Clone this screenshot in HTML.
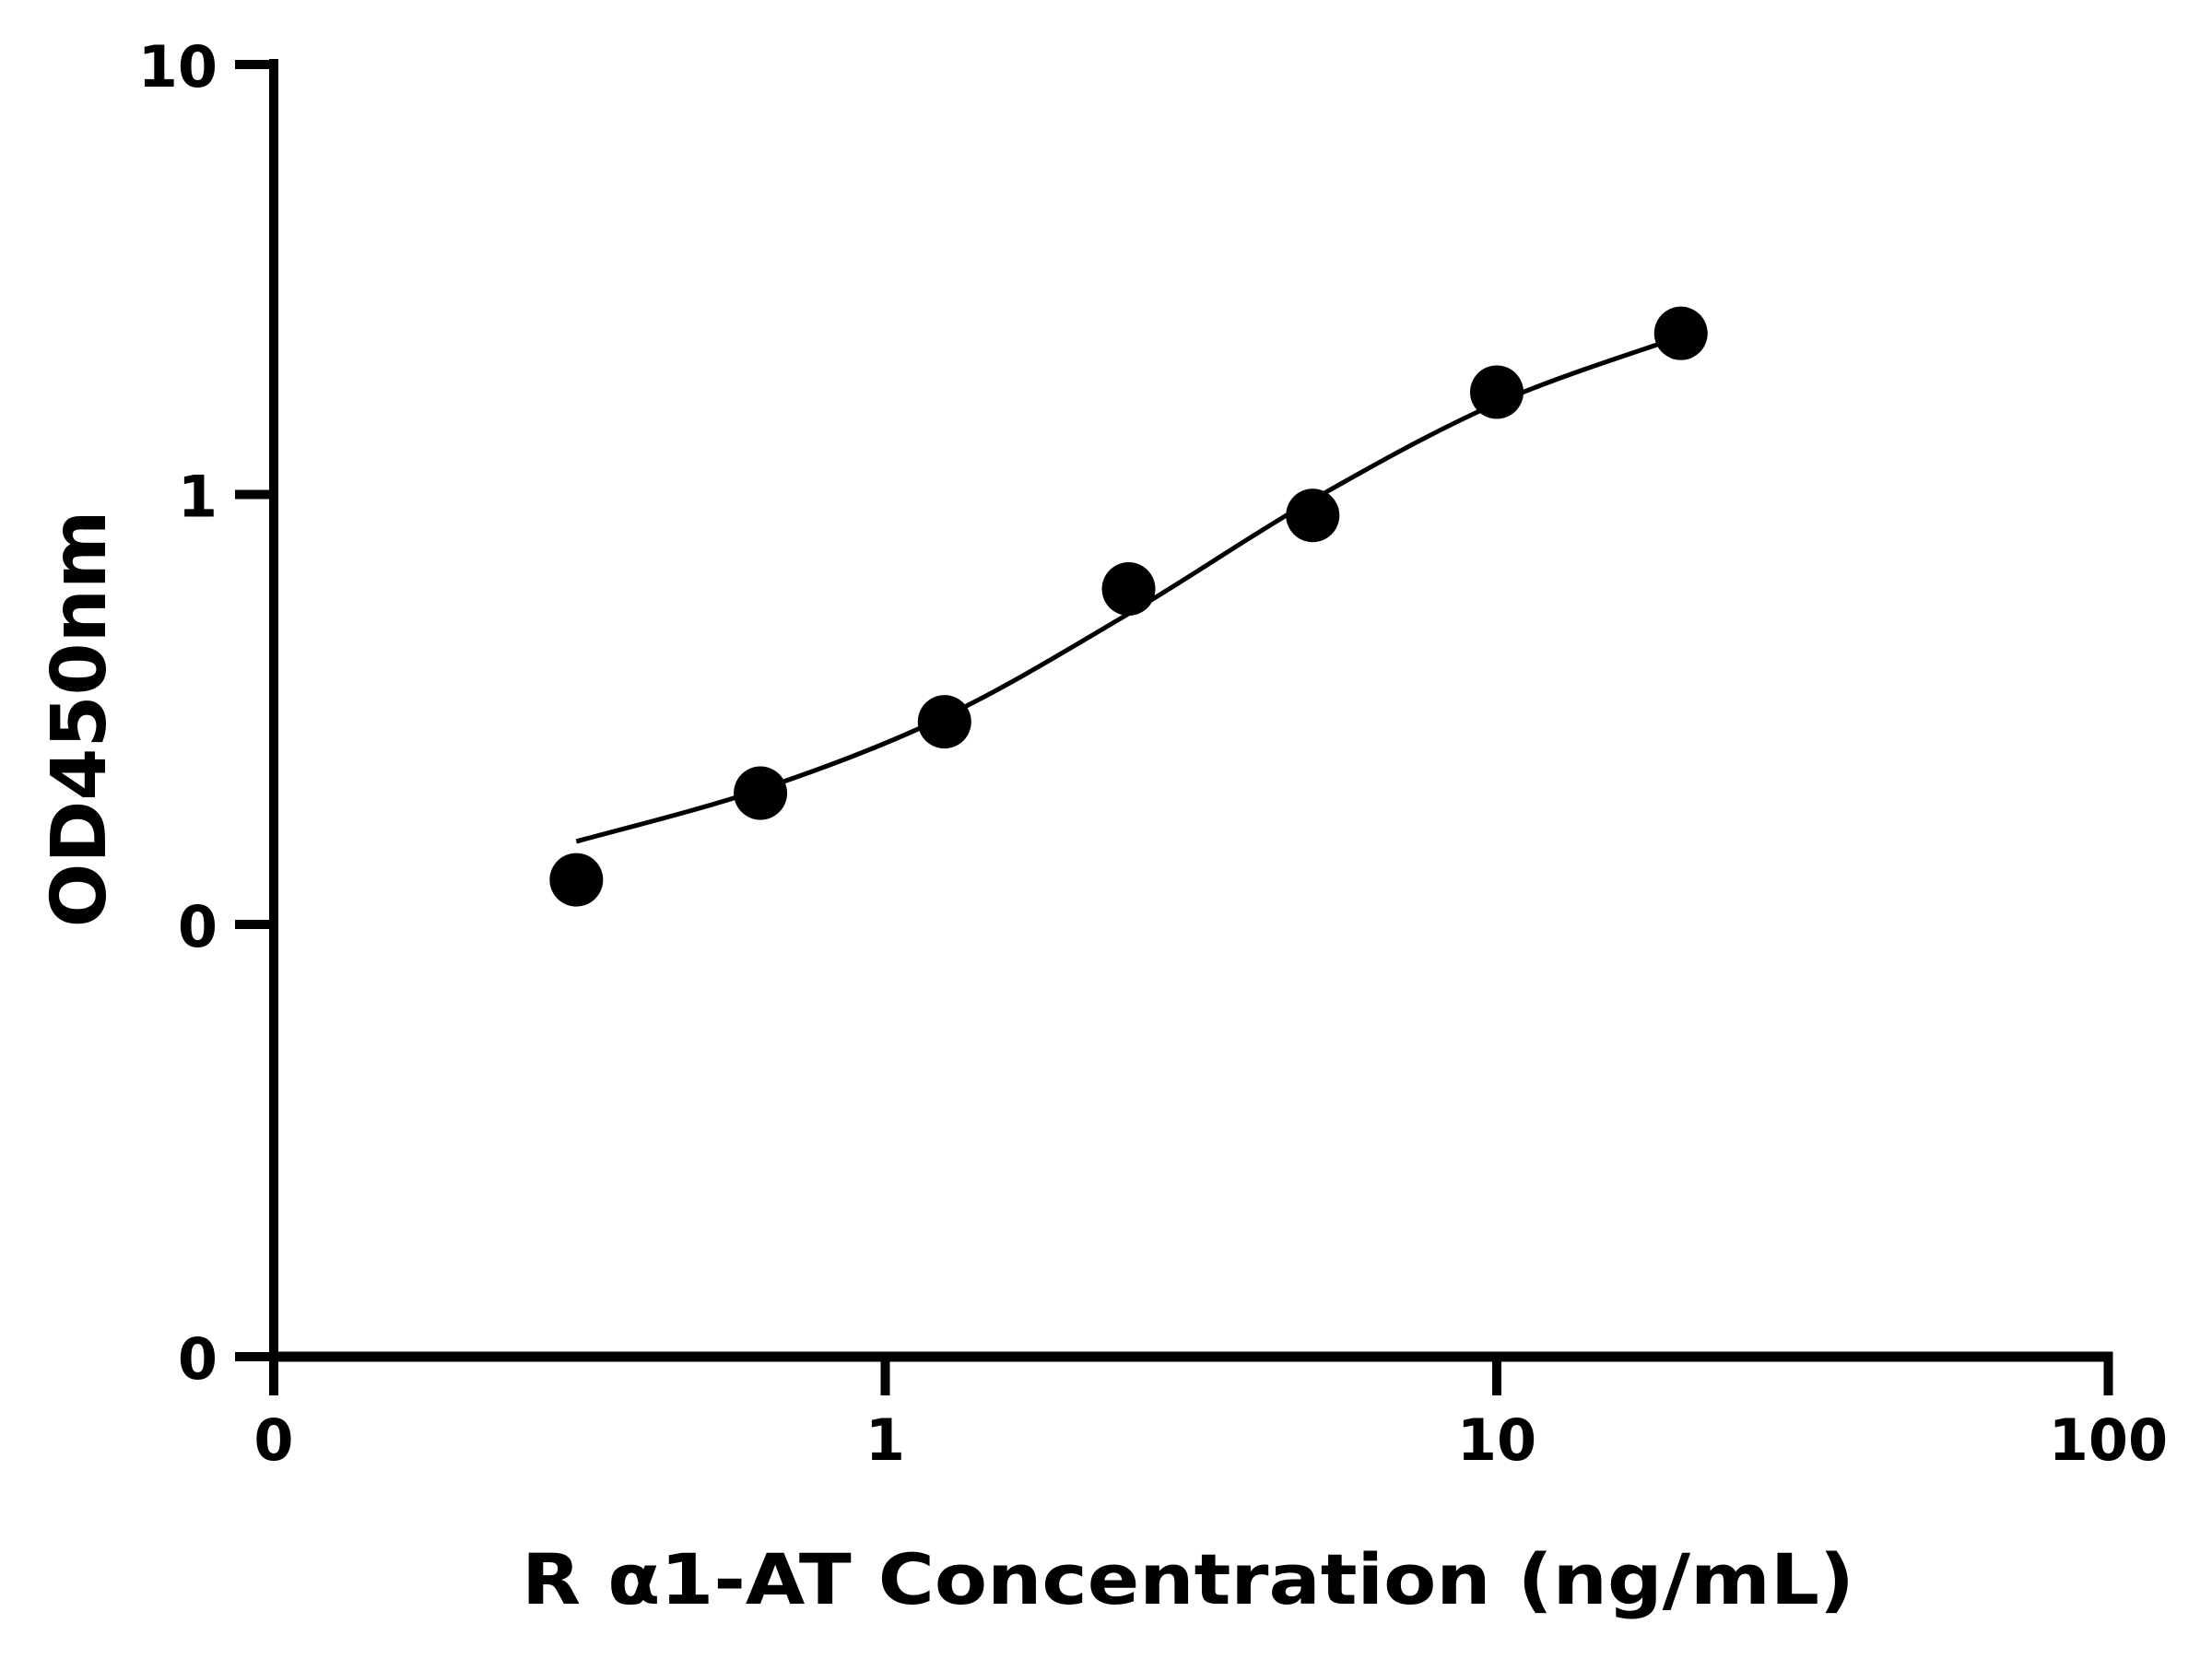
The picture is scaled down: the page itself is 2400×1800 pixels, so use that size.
<!DOCTYPE html>
<html><head><meta charset="utf-8"><style>
html,body{margin:0;padding:0;background:#fff;}
svg{display:block;}
text{font-family:"DejaVu Sans","Liberation Sans",sans-serif;font-weight:bold;fill:#000;}
</style></head><body>
<svg id="chart" width="2400" height="1800" viewBox="0 0 2400 1800" xmlns="http://www.w3.org/2000/svg">
<g id="axes"></g>
<g id="curve"></g>
<g id="points"></g>
<text transform="translate(114,780) rotate(-90)" text-anchor="middle" font-size="82">OD450nm</text>
<text x="1289" y="1740" text-anchor="middle" font-size="76" textLength="1446" lengthAdjust="spacingAndGlyphs">R α1-AT Concentration (ng/mL)</text>
</svg>
<script>
const concentrations = [0.3125, 0.625, 1.25, 2.5, 5, 10, 20];
const odValues = [0.127, 0.202, 0.296, 0.603, 0.894, 1.73, 2.37];
const curveX = [0.3125, 0.625, 1.25, 2.5, 5, 10, 20];
const curveY = [0.156, 0.206, 0.304, 0.528, 0.972, 1.63, 2.33];
const xTickValues = [0.1, 1, 10, 100];
const xTickLabels = ["0", "1", "10", "100"];
const yTickValues = [10, 1, 0.1];
const yTickLabels = ["10", "1", "0"];

const NS = "http://www.w3.org/2000/svg";
const X0 = 297, XDEC = 663.5, YTEN = 70, YDEC = 466.5, YBOT = 1472, YTOP = 64;
function xs(v){ return X0 + (Math.log10(v) + 1) * XDEC; }
function ys(v){ return YTEN + (1 - Math.log10(v)) * YDEC; }
function mk(tag, attrs, parent){ const e = document.createElementNS(NS, tag); for (const k in attrs) e.setAttribute(k, attrs[k]); parent.appendChild(e); return e; }

const axes = document.getElementById('axes');
let e;
e = mk('line', {x1: X0, y1: YTOP, x2: X0, y2: YBOT + 6, stroke: '#000', 'stroke-width': 10}, axes);


e = mk('line', {x1: X0 - 5, y1: YBOT, x2: xs(100) + 5, y2: YBOT, stroke: '#000', 'stroke-width': 11}, axes);



yTickValues.forEach((v, i) => {
  const y = ys(v);
  const t = mk('line', {x1: 255, y1: y, x2: X0, y2: y, stroke: '#000', 'stroke-width': 10}, axes);
  
  
  const l = mk('text', {x: 236, y: y + 24, 'text-anchor': 'end', 'font-size': 62}, axes);
  l.textContent = yTickLabels[i];
  
  
});
e = mk('line', {x1: 255, y1: YBOT, x2: X0, y2: YBOT, stroke: '#000', 'stroke-width': 10}, axes);


e = mk('text', {x: 236, y: YBOT + 24, 'text-anchor': 'end', 'font-size': 62}, axes);
e.textContent = "0";



xTickValues.forEach((v, i) => {
  const x = xs(v);
  const t = mk('line', {x1: x, y1: YBOT, x2: x, y2: YBOT + 42, stroke: '#000', 'stroke-width': 10}, axes);
  
  
  const l = mk('text', {x: x, y: 1584, 'text-anchor': 'middle', 'font-size': 62}, axes);
  l.textContent = xTickLabels[i];
  
  
});

const pts = curveX.map((v, i) => [xs(v), ys(curveY[i])]);
let d = 'M' + pts[0][0] + ',' + pts[0][1];
for (let i = 0; i < pts.length - 1; i++) {
  const p0 = pts[Math.max(0, i - 1)], p1 = pts[i], p2 = pts[i + 1], p3 = pts[Math.min(pts.length - 1, i + 2)];
  const c1x = p1[0] + (p2[0] - p0[0]) / 6, c1y = p1[1] + (p2[1] - p0[1]) / 6;
  const c2x = p2[0] - (p3[0] - p1[0]) / 6, c2y = p2[1] - (p3[1] - p1[1]) / 6;
  d += ' C' + c1x + ',' + c1y + ' ' + c2x + ',' + c2y + ' ' + p2[0] + ',' + p2[1];
}
const cv = mk('path', {d: d, fill: 'none', stroke: '#000', 'stroke-width': 5}, document.getElementById('curve'));



const pg = document.getElementById('points');
concentrations.forEach((c, i) => {
  const p = mk('circle', {cx: xs(c), cy: ys(odValues[i]), r: 29, fill: '#000'}, pg);
  
  
});
</script>
</body></html>
